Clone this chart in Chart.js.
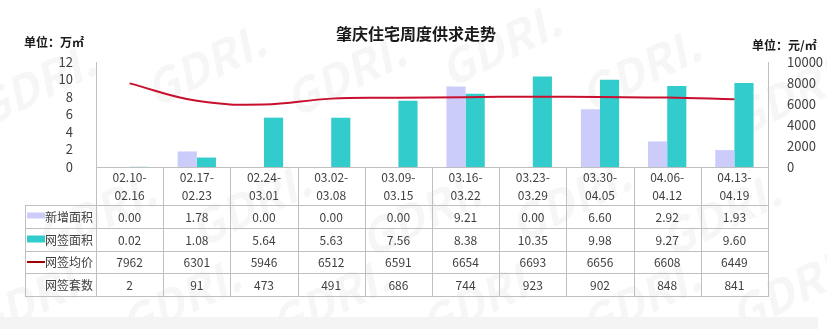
<!DOCTYPE html>
<html>
<head>
<meta charset="utf-8">
<script src="https://cdn.jsdelivr.net/npm/chart.js@4.4.1/dist/chart.umd.min.js"></script>
<style>
  html, body { margin: 0; padding: 0; background: #ffffff; }
  #wrap { position: relative; width: 827px; height: 329px; }
</style>
</head>
<body>
<div id="wrap"><canvas id="c" width="827" height="329"></canvas></div>
<script>
// Weekly periods (two-line labels) and series
const weeks = [
  ["02.10-", "02.16"], ["02.17-", "02.23"], ["02.24-", "03.01"], ["03.02-", "03.08"],
  ["03.09-", "03.15"], ["03.16-", "03.22"], ["03.23-", "03.29"], ["03.30-", "04.05"],
  ["04.06-", "04.12"], ["04.13-", "04.19"]
];
const newArea    = [0.00, 1.78, 0.00, 0.00, 0.00, 9.21, 0.00, 6.60, 2.92, 1.93];   // 新增面积 (万㎡)
const signedArea = [0.02, 1.08, 5.64, 5.63, 7.56, 8.38, 10.35, 9.98, 9.27, 9.60];  // 网签面积 (万㎡)
const avgPrice   = [7962, 6301, 5946, 6512, 6591, 6654, 6693, 6656, 6608, 6449];   // 网签均价 (元/㎡)
const signedUnits = [2, 91, 473, 491, 686, 744, 923, 902, 848, 841];               // 网签套数
const areaTicks  = [0, 2, 4, 6, 8, 10, 12];
const priceTicks = [0, 2000, 4000, 6000, 8000, 10000];

const COLOR_NEW = '#ccccfa';
const COLOR_SIGNED = '#33cccc';
const COLOR_PRICE = '#c8102e';
const GRID = '#bfbfbf';
const TEXT = '#404040';
const CJK = '"Noto Sans CJK SC", "Microsoft YaHei", sans-serif';

// faint brand marks in the background
const marks = [
  [35, 85], [205, 65], [345, 75], [500, 45], [640, 70], [790, 95],
  [95, 215], [250, 205], [420, 215], [570, 200], [720, 215],
  [30, 300], [180, 300], [330, 300], [480, 300], [640, 300], [790, 290]
];

// Titles, unit captions, data table and footer band
const decorations = {
  id: 'decorations',
  beforeDraw(chart) {
    const ctx = chart.ctx;
    ctx.save();
    ctx.fillStyle = '#ffffff';
    ctx.fillRect(0, 0, chart.width, chart.height);
    ctx.font = 'bold italic 46px ' + CJK;
    ctx.textAlign = 'center';
    ctx.textBaseline = 'middle';
    ctx.fillStyle = 'rgba(0,0,0,0.035)';
    marks.forEach(([mx, my]) => {
      ctx.save();
      ctx.translate(mx, my);
      ctx.rotate(-0.45);
      ctx.fillText('GDRI.', 0, 0);
      ctx.restore();
    });
    ctx.fillStyle = '#f4f4f4';
    ctx.fillRect(0, 317, 818, 12);
    ctx.restore();
  },
  afterDraw(chart) {
    const ctx = chart.ctx;
    const x = chart.scales.x;
    const area = chart.chartArea;
    const n = weeks.length;
    const colW = (x.right - x.left) / n;
    const tableLeft = 25;
    const top = area.bottom;
    const rowY = [top, 205, 228, 251, 273, 296];

    ctx.save();
    // title & units
    ctx.fillStyle = '#1a1a1a';
    ctx.textBaseline = 'middle';
    ctx.textAlign = 'center';
    ctx.font = 'bold 16px ' + CJK;
    ctx.fillText('肇庆住宅周度供求走势', 416, 34);
    ctx.font = 'bold 12px ' + CJK;
    ctx.textAlign = 'left';
    ctx.fillText('单位：万㎡', 24, 42);
    ctx.fillText('单位：元/㎡', 752, 45);

    // table grid
    ctx.strokeStyle = GRID;
    ctx.lineWidth = 1;
    ctx.beginPath();
    for (let i = 0; i <= n; i++) {
      const px = Math.round(x.left + i * colW) + 0.5;
      ctx.moveTo(px, top);
      ctx.lineTo(px, rowY[5]);
    }
    ctx.moveTo(tableLeft + 0.5, rowY[1]);
    ctx.lineTo(tableLeft + 0.5, rowY[5]);
    for (let r = 1; r <= 5; r++) {
      ctx.moveTo(tableLeft, rowY[r] + 0.5);
      ctx.lineTo(x.right + 1, rowY[r] + 0.5);
    }
    ctx.stroke();

    // header labels
    ctx.fillStyle = TEXT;
    ctx.textAlign = 'center';
    ctx.font = '12px ' + CJK;
    for (let i = 0; i < n; i++) {
      const cx = x.getPixelForValue(i);
      ctx.fillText(weeks[i][0], cx, 177);
      ctx.fillText(weeks[i][1], cx, 195);
    }

    // data rows
    const rows = [
      { name: '新增面积', vals: newArea.map(v => v.toFixed(2)), key: 'box', color: COLOR_NEW, h: 6 },
      { name: '网签面积', vals: signedArea.map(v => v.toFixed(2)), key: 'box', color: COLOR_SIGNED, h: 7 },
      { name: '网签均价', vals: avgPrice.map(String), key: 'line', color: '#a00000' },
      { name: '网签套数', vals: signedUnits.map(String), key: null }
    ];
    rows.forEach((row, r) => {
      const cy = (rowY[r + 1] + rowY[r + 2]) / 2;
      ctx.fillStyle = TEXT;
      ctx.textAlign = 'center';
      row.vals.forEach((v, i) => ctx.fillText(v, x.getPixelForValue(i), cy + 0.5));
      ctx.textAlign = 'right';
      ctx.fillText(row.name, 93, cy + 0.5);
      if (row.key === 'box') {
        ctx.fillStyle = row.color;
        ctx.fillRect(27, cy - 4, 18, row.h);
      } else if (row.key === 'line') {
        ctx.strokeStyle = row.color;
        ctx.lineWidth = 2;
        ctx.beginPath();
        ctx.moveTo(27, cy);
        ctx.lineTo(45, cy);
        ctx.stroke();
      }
    });
    ctx.restore();
  }
};

new Chart(document.getElementById('c'), {
  type: 'bar',
  data: {
    labels: weeks,
    datasets: [
      {
        type: 'line', label: '网签均价', data: avgPrice, yAxisID: 'y1',
        borderColor: COLOR_PRICE, borderWidth: 2, pointRadius: 0, tension: 0.4,
        fill: false, order: 0
      },
      { label: '新增面积', data: newArea, backgroundColor: COLOR_NEW, yAxisID: 'y', order: 1 },
      { label: '网签面积', data: signedArea, backgroundColor: COLOR_SIGNED, yAxisID: 'y', order: 1 }
    ]
  },
  options: {
    responsive: false,
    animation: false,
    layout: { padding: { top: 62, left: 0, right: 0, bottom: 0 } },
    datasets: { bar: { categoryPercentage: 0.57, barPercentage: 1.0 } },
    plugins: { legend: { display: false }, title: { display: false }, tooltip: { enabled: false } },
    scales: {
      x: {
        grid: { display: false },
        border: { display: true, color: GRID },
        ticks: { display: false },
        afterFit(s) { s.height = 162; }
      },
      y: {
        position: 'left', min: 0, max: areaTicks[areaTicks.length - 1],
        afterBuildTicks(s) { s.ticks = areaTicks.map(v => ({ value: v })); },
        grid: { display: false },
        border: { display: true, color: GRID },
        ticks: {
          color: TEXT, padding: 15, autoSkip: false, font: { size: 13, family: CJK },
          callback: v => String(v)
        },
        afterFit(s) { s.width = 96; }
      },
      y1: {
        position: 'right', min: 0, max: priceTicks[priceTicks.length - 1],
        afterBuildTicks(s) { s.ticks = priceTicks.map(v => ({ value: v })); },
        grid: { display: false },
        border: { display: true, color: GRID },
        ticks: {
          color: TEXT, padding: 11, autoSkip: false, font: { size: 13, family: CJK },
          callback: v => String(v)
        },
        afterFit(s) { s.width = 59; }
      }
    }
  },
  plugins: [decorations]
});
</script>
</body>
</html>
